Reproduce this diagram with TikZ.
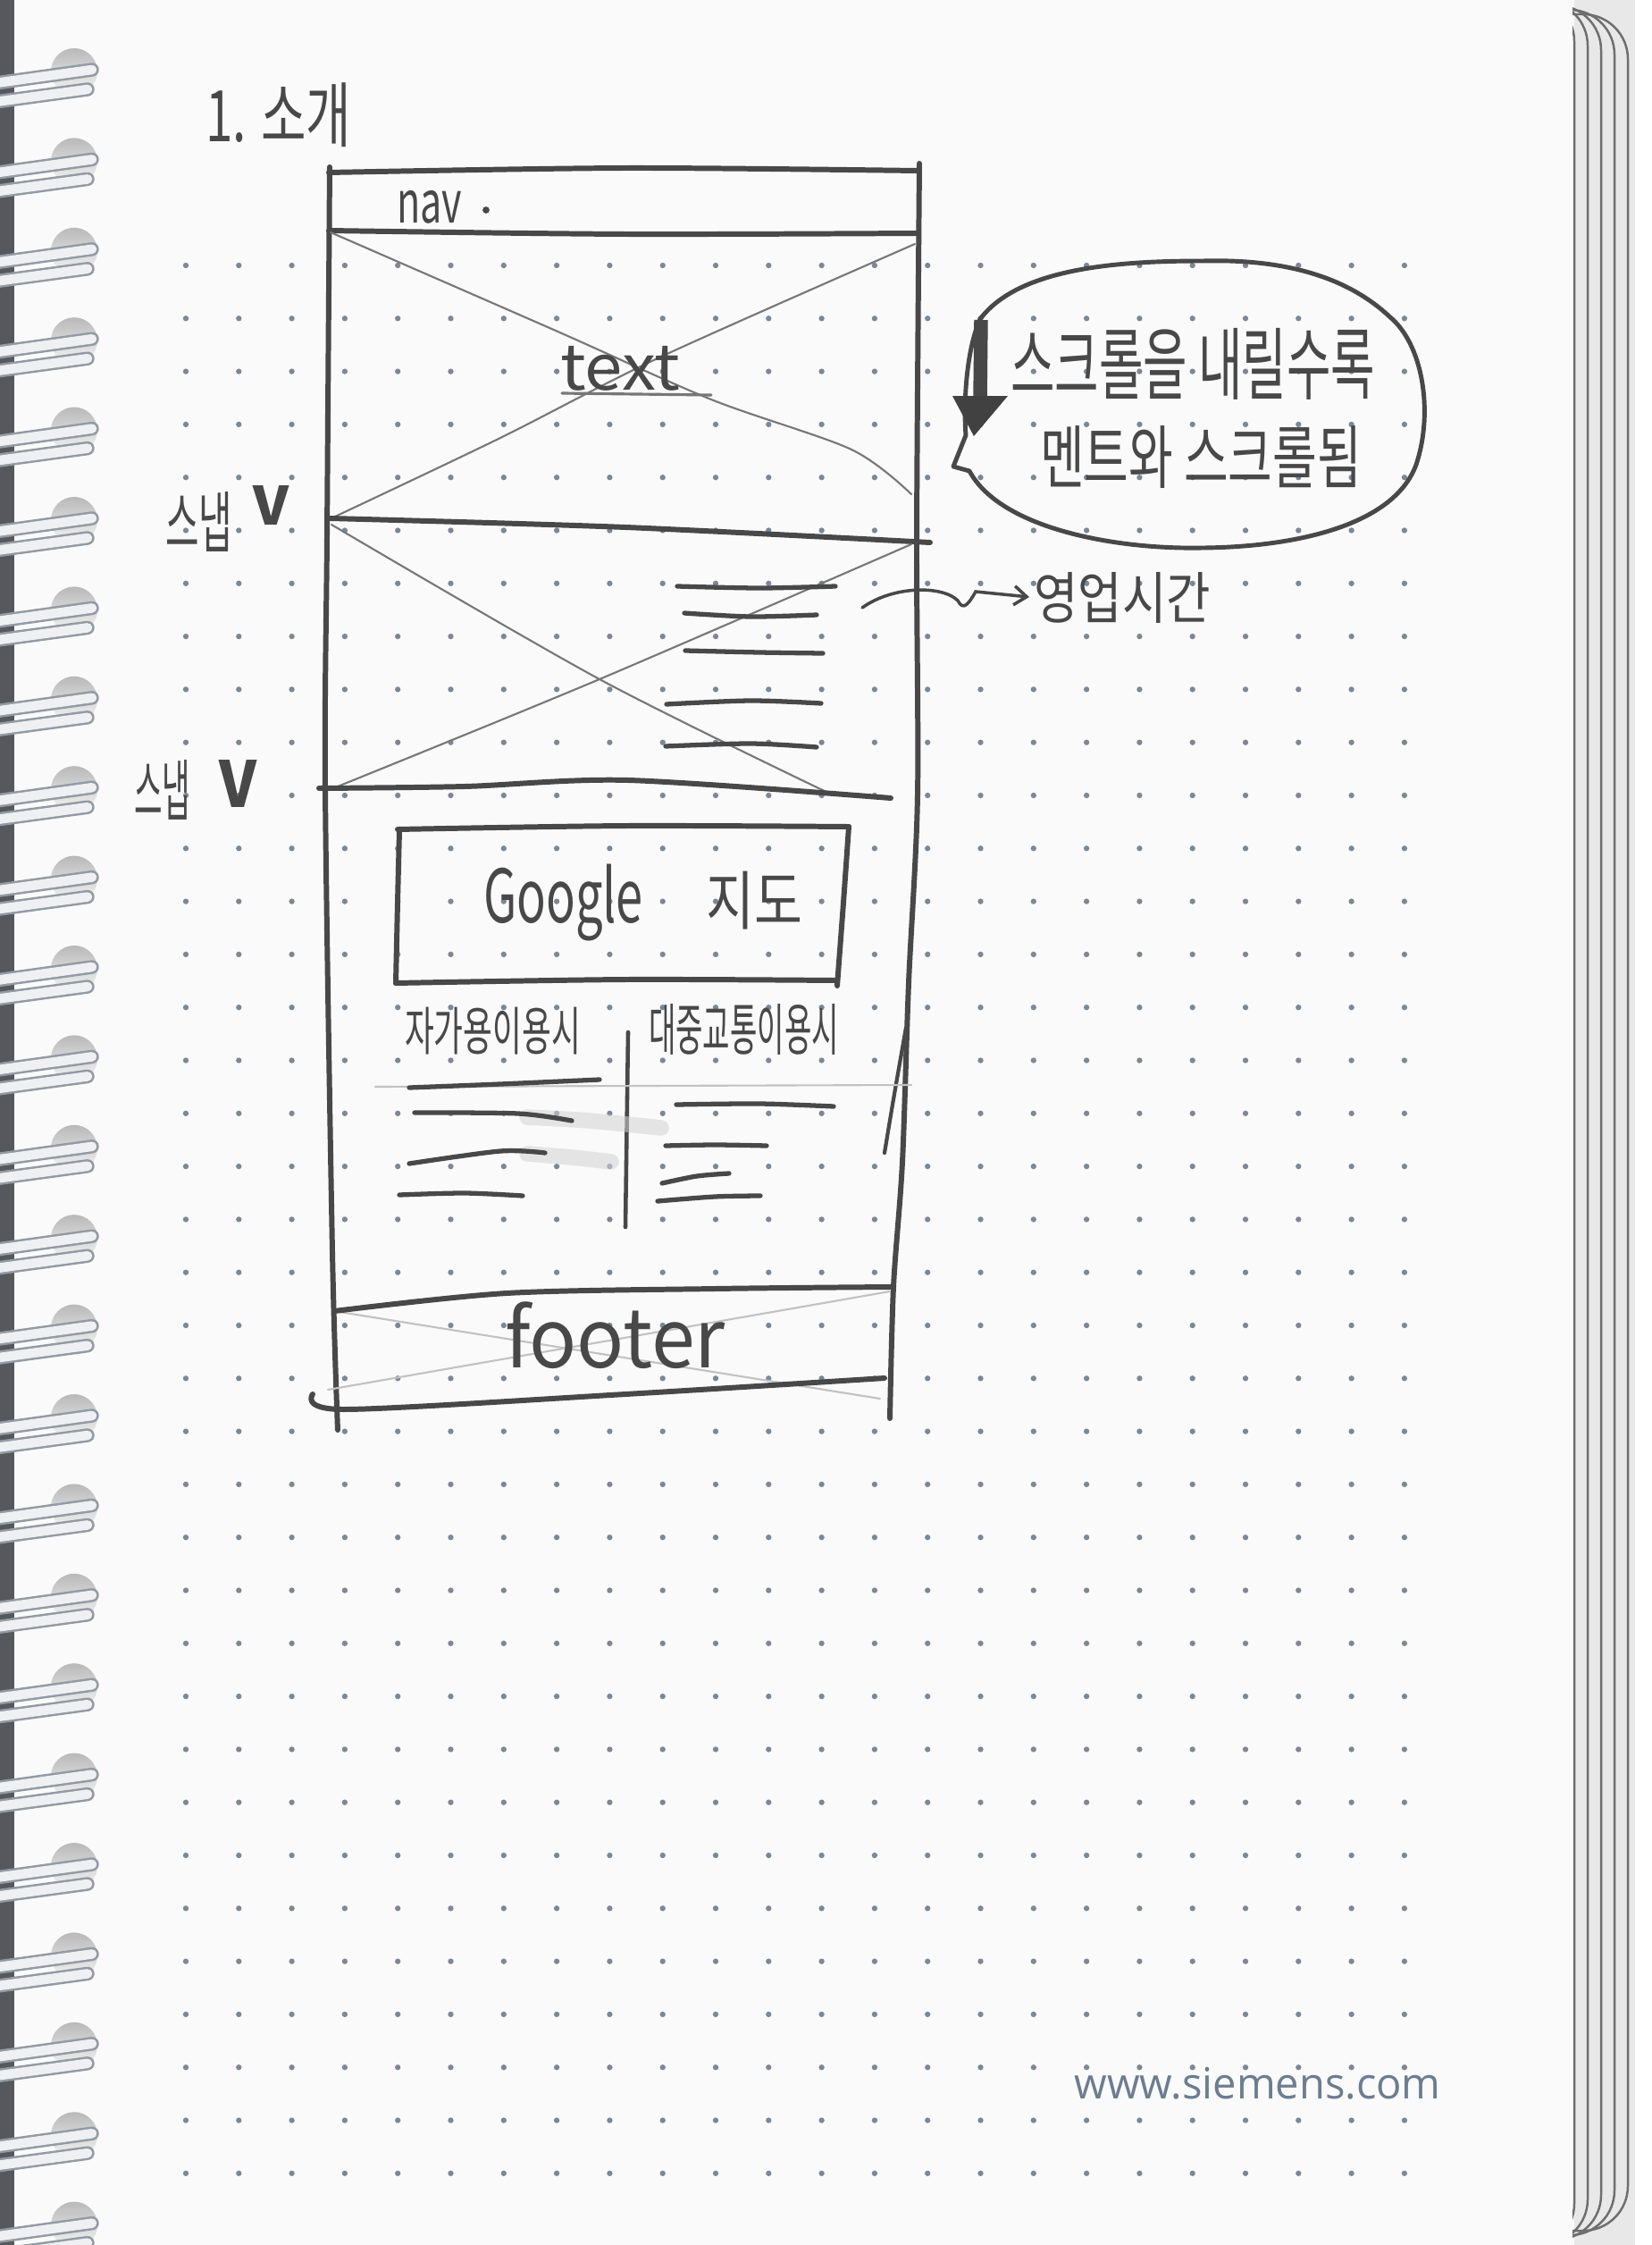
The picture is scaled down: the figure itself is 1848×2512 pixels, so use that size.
\documentclass[tikz,border=0pt]{standalone}
\usepackage{fontspec}
\usepackage{graphicx}
\usetikzlibrary{arrows.meta}
\newfontfamily\pen{Noto Sans CJK KR}
\newfontfamily\web{Open Sans}
\newlength\px \setlength\px{0.01cm}
% scale a piece of handwriting to the box its ink fills
\newcommand\fitbox[3]{\resizebox*{#1\px}{#2\px}{#3}}
\definecolor{paper}{HTML}{FAFAFB}
\definecolor{pencil}{HTML}{484848}
\definecolor{leadgray}{HTML}{777777}
\definecolor{dotblue}{HTML}{7D8896}
\definecolor{printblue}{HTML}{6C7D8F}
\definecolor{wire}{HTML}{EEF0F3}
\definecolor{wireedge}{HTML}{939AA3}
\definecolor{binding}{HTML}{55585C}
\definecolor{pageedge}{HTML}{6E6E6E}

\begin{document}
\begin{tikzpicture}[x=0.01cm,y=-0.01cm,
  penline/.style={draw=pencil, line width=1.7pt, line cap=round, line join=round},
  textstroke/.style={draw=pencil, line width=1.5pt, line cap=round},
  thinline/.style={draw=leadgray, line width=0.6pt, line cap=round},
  faintline/.style={draw=leadgray!45, line width=0.6pt, line cap=round},
  smudge/.style={draw=gray!35, line width=5pt, line cap=round, opacity=0.55},
  handtext/.style={inner sep=0pt, outer sep=0pt, text=pencil, font=\pen, anchor=north west},
]
\useasboundingbox (0,0) rectangle (1848,2512);
\fill[paper] (0,0) rectangle (1848,2512);

% ---- dotted grid of the page ----
\foreach \i in {0,...,24}{
  \foreach \j in {0,...,36}{
    \fill[dotblue] ({208+59.3*\i},{297+59.3*\j}) circle (0.9pt);
  }
}

% ---- stacked page edges on the right ----
\fill[gray!18] (1762,0) rectangle (1848,2512);
\fill[white] (1830,0) rectangle (1848,2512);
\foreach \i in {0,...,4}{
  \draw[pageedge, line width=0.7pt, rounded corners=0.5cm]
    (1650,{-4+5*\i}) -- ({1762+15*\i},{-4+5*\i}) -- ({1762+15*\i},{2516-5*\i}) -- (1650,{2516-5*\i});
}
\fill[paper] (1600,0) rectangle (1760,2512);

% ---- spiral binding on the left ----
\fill[binding] (0,0) rectangle (16,2512);
\foreach \k in {0,...,24}{
  \pgfmathsetmacro\yc{80+100.4*\k}
  \shade[top color=gray!55, bottom color=gray!8] (83,\yc) circle (0.26cm);
  \draw[wireedge, line width=4.4pt, line cap=round] (-5,\yc+13) -- (103,\yc-2);
  \draw[wire, line width=3.0pt, line cap=round] (-5,\yc+13) -- (103,\yc-2);
  \draw[wireedge, line width=4.4pt, line cap=round] (-5,\yc+34) -- (98,\yc+20);
  \draw[wire, line width=3.0pt, line cap=round] (-5,\yc+34) -- (98,\yc+20);
}

% ---- heading ----
\node[handtext] (title) at (230,93) {\fitbox{163}{72}{1. 소개}};

% ---- outer frame of the page layout ----
\draw[penline] plot[smooth] coordinates {(368,193) (700,188) (1026,191)};
\draw[penline] plot[smooth] coordinates {(369,187) (366,600) (364,882) (372,1400) (378,1600)};
\draw[penline] plot[smooth] coordinates {(1029,183) (1026,600) (1027,890) (1017,1100) (1010,1300) (1000,1440) (996,1587)};
\draw[penline, line width=1.2pt] plot[smooth] coordinates {(1014,1150) (1000,1230) (990,1290)};

% nav bar
\draw[penline] plot[smooth] coordinates {(368,258) (700,262) (1026,261)};
\node[handtext] (navlabel) at (444,213) {\fitbox{73}{37}{nav}};
\fill[pencil] (544,235) circle (1.1pt);

% hero image block
\draw[thinline] plot[smooth] coordinates {(370,260) (622,370) (796,447) (953,503) (1020,553)};
\draw[thinline] plot[smooth] coordinates {(375,578) (560,490) (738,400) (1024,273)};
\node[handtext] (herotext) at (627,387) {\fitbox{134}{50}{text}};
\draw[thinline, line width=0.9pt] (629,440) -- (796,442);
\draw[penline] plot[smooth] coordinates {(370,580) (700,590) (1041,607)};

% opening-hours block
\draw[thinline] plot[smooth] coordinates {(371,587) (671,760) (933,890)};
\draw[thinline] plot[smooth] coordinates {(378,880) (671,760) (1020,609)};
\draw[textstroke] plot[smooth] coordinates {(758,656) (850,658) (935,656)};
\draw[textstroke] plot[smooth] coordinates {(766,686) (840,690) (914,688)};
\draw[textstroke] plot[smooth] coordinates {(767,728) (850,730) (921,731)};
\draw[textstroke] plot[smooth] coordinates {(746,788) (840,784) (919,787)};
\draw[textstroke] plot[smooth] coordinates {(745,835) (840,832) (914,836)};
\draw[penline] plot[smooth] coordinates {(357,882) (520,880) (703,873) (997,893)};

% map block
\draw[penline] plot[smooth] coordinates {(445,928) (700,924) (950,925)};
\draw[penline] plot[smooth] coordinates {(950,925) (944,1010) (937,1103)};
\draw[penline] plot[smooth] coordinates {(443,1100) (700,1096) (935,1097)};
\draw[penline] plot[smooth] coordinates {(447,930) (445,1010) (443,1100)};
\node[handtext] (google) at (541,967) {\fitbox{179}{86}{Google}};
\node[handtext] (mapword) at (790,975) {\fitbox{108}{65}{지도}};

% directions
\node[handtext] (car) at (453,1127) {\fitbox{197}{53}{자가용이용시}};
\node[handtext] (transit) at (726,1123) {\fitbox{213}{57}{대중교통이용시}};
\draw[penline, line width=1.3pt] (703,1155) -- (700,1373);
\draw[faintline] (420,1216) -- (1020,1214);
\draw[textstroke] plot[smooth] coordinates {(458,1217) (560,1213) (671,1208)};
\draw[smudge] plot[smooth] coordinates {(590,1250) (660,1254) (740,1262)};
\draw[textstroke] plot[smooth] coordinates {(464,1245) (580,1246) (640,1254)};
\draw[smudge] plot[smooth] coordinates {(590,1291) (640,1295) (684,1300)};
\draw[textstroke] plot[smooth] coordinates {(458,1302) (560,1288) (610,1290)};
\draw[textstroke] plot[smooth] coordinates {(447,1337) (520,1335) (585,1338)};
\draw[textstroke] plot[smooth] coordinates {(757,1236) (850,1235) (933,1238)};
\draw[textstroke] plot[smooth] coordinates {(745,1282) (800,1281) (858,1282)};
\draw[textstroke] plot[smooth] coordinates {(741,1324) (780,1316) (816,1313)};
\draw[textstroke] plot[smooth] coordinates {(736,1344) (800,1339) (851,1338)};

% footer
\draw[faintline] (367,1555) -- (996,1445);
\draw[faintline] (374,1467) -- (985,1565);
\draw[penline] plot[smooth] coordinates {(374,1467) (567,1447) (800,1442) (996,1440)};
\draw[penline] plot[smooth] coordinates {(350,1560) (385,1577) (700,1560) (990,1542)};
\node[handtext] (footer) at (565,1457) {\fitbox{247}{75}{footer}};

% ---- section markers on the left ----
\node[handtext] (snapA) at (185,550) {\fitbox{75}{67}{스냅}};
\node[handtext, font=\pen\bfseries] (tickA) at (283,543) {\fitbox{40}{44}{V}};
\node[handtext] (snapB) at (150,850) {\fitbox{63}{67}{스냅}};
\node[handtext, font=\pen\bfseries] (tickB) at (245,850) {\fitbox{42}{53}{V}};

% ---- note bubble with scroll arrow ----
\draw[penline, line width=1.4pt]
  (1085,527) .. controls (1120,592) and (1250,615) .. (1346,613)
  .. controls (1450,612) and (1560,588) .. (1585,520)
  .. controls (1605,460) and (1592,385) .. (1556,355)
  .. controls (1500,302) and (1420,290) .. (1346,292)
  .. controls (1250,292) and (1140,300) .. (1097,357)
  .. controls (1082,390) and (1078,450) .. (1081,487)
  -- (1067,522) -- cycle;
\coordinate (scrolltop) at (1098,358);
\coordinate (scrollend) at (1090,488);
\draw[pencil, line width=4.4pt] (scrolltop) -- (1097,446);
\fill[pencil!90!black] (1066,443) -- (1128,443) -- (scrollend) -- cycle;
\node[handtext] (noteA) at (1131,367) {\fitbox{408}{80}{스크롤을 내릴수록}};
\node[handtext] (noteB) at (1164,477) {\fitbox{360}{70}{멘트와 스크롤됨}};

% ---- opening hours callout ----
\node[handtext] (hours) at (1157,640) {\fitbox{198}{57}{영업시간}};
\coordinate (hstart) at (965,680);
\draw[draw=pencil, line width=1pt, line cap=round, shorten >=5\px,
      -{Straight Barb[length=4pt,width=6pt]}]
  (hstart) .. controls (1000,655) and (1055,655) .. (1072,672)
  .. controls (1078,684) and (1084,676) .. (1092,662)
  -- (hours.west);

% ---- printed web address ----
\node[inner sep=0pt, anchor=north west, text=printblue, font=\web] (web) at (1202,2312)
  {\fitbox{410}{36}{www.siemens.com}};
\end{tikzpicture}
\end{document}
